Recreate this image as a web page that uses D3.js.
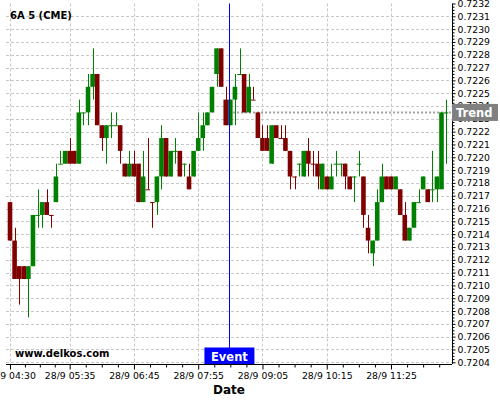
<!DOCTYPE html>
<html>
<head>
<meta charset="utf-8">
<script src="https://cdn.jsdelivr.net/npm/d3@7"></script>
<style>
  body { margin: 0; background: #fff; }
  svg { display: block; font-family: "DejaVu Sans", sans-serif; }
</style>
</head>
<body>
<div id="chart"></div>
<script>
// 5 minute candles, 6A (CME)
const opens = [
  0.72165, 0.72135, 0.72115, 0.72115, 0.72105, 0.72115, 0.72155, 0.72155, 0.72165, 0.72155,
  0.72165, 0.72195, 0.72195, 0.72205, 0.72205, 0.72195, 0.72235, 0.72235, 0.72255, 0.72265,
  0.72225, 0.72215, 0.72225, 0.72225, 0.72225, 0.72195, 0.72185, 0.72195, 0.72195, 0.72165,
  0.72175, 0.72165, 0.72165, 0.72185, 0.72215, 0.72185, 0.72205, 0.72205, 0.72195, 0.72185,
  0.72185, 0.72205, 0.72215, 0.72225, 0.72235, 0.72265, 0.72285, 0.72245, 0.72225, 0.72245,
  0.72265, 0.72265, 0.72235, 0.72245, 0.72235, 0.72215, 0.72215, 0.72195, 0.72225, 0.72215,
  0.72215, 0.72205, 0.72185, 0.72195, 0.72185, 0.72205, 0.72195, 0.72195, 0.72175, 0.72185,
  0.72175, 0.72195, 0.72195, 0.72195, 0.72185, 0.72185, 0.72195, 0.72185, 0.72145, 0.72125,
  0.72135, 0.72165, 0.72185, 0.72185, 0.72175, 0.72175, 0.72155, 0.72135, 0.72145, 0.72165,
  0.72175, 0.72175, 0.72175, 0.72175, 0.72175, 0.72235
];
const highs = [
  0.72165, 0.72145, 0.72115, 0.72115, 0.72115, 0.72155, 0.72175, 0.72165, 0.72175, 0.72155,
  0.72195, 0.72205, 0.72205, 0.72215, 0.72205, 0.72245, 0.72235, 0.72265, 0.72285, 0.72265,
  0.72225, 0.72225, 0.72235, 0.72235, 0.72225, 0.72195, 0.72205, 0.72205, 0.72195, 0.72205,
  0.72215, 0.72165, 0.72185, 0.72225, 0.72215, 0.72205, 0.72215, 0.72205, 0.72195, 0.72195,
  0.72205, 0.72235, 0.72235, 0.72235, 0.72255, 0.72285, 0.72285, 0.72255, 0.72245, 0.72265,
  0.72285, 0.72265, 0.72265, 0.72255, 0.72235, 0.72225, 0.72225, 0.72225, 0.72225, 0.72225,
  0.72225, 0.72205, 0.72185, 0.72195, 0.72205, 0.72215, 0.72205, 0.72205, 0.72195, 0.72185,
  0.72195, 0.72205, 0.72195, 0.72195, 0.72185, 0.72185, 0.72205, 0.72185, 0.72155, 0.72135,
  0.72175, 0.72195, 0.72185, 0.72185, 0.72185, 0.72175, 0.72165, 0.72145, 0.72165, 0.72175,
  0.72185, 0.72175, 0.72205, 0.72185, 0.72235, 0.72245
];
const lows = [
  0.72135, 0.72105, 0.72085, 0.72105, 0.72075, 0.72115, 0.72145, 0.72145, 0.72155, 0.72145,
  0.72165, 0.72195, 0.72195, 0.72195, 0.72195, 0.72195, 0.72225, 0.72225, 0.72245, 0.72225,
  0.72205, 0.72195, 0.72215, 0.72225, 0.72195, 0.72185, 0.72185, 0.72185, 0.72165, 0.72165,
  0.72175, 0.72145, 0.72155, 0.72175, 0.72185, 0.72185, 0.72195, 0.72185, 0.72185, 0.72175,
  0.72185, 0.72205, 0.72205, 0.72225, 0.72235, 0.72255, 0.72255, 0.72225, 0.72225, 0.72225,
  0.72265, 0.72235, 0.72235, 0.72245, 0.72215, 0.72205, 0.72205, 0.72195, 0.72215, 0.72215,
  0.72205, 0.72175, 0.72175, 0.72185, 0.72185, 0.72185, 0.72185, 0.72175, 0.72175, 0.72175,
  0.72175, 0.72185, 0.72185, 0.72175, 0.72175, 0.72165, 0.72185, 0.72145, 0.72125, 0.72115,
  0.72135, 0.72165, 0.72175, 0.72175, 0.72175, 0.72155, 0.72135, 0.72135, 0.72145, 0.72165,
  0.72175, 0.72165, 0.72165, 0.72165, 0.72175, 0.72195
];
const closes = [
  0.72135, 0.72105, 0.72105, 0.72105, 0.72115, 0.72155, 0.72155, 0.72165, 0.72155, 0.72155,
  0.72185, 0.72195, 0.72205, 0.72195, 0.72195, 0.72235, 0.72235, 0.72255, 0.72265, 0.72225,
  0.72215, 0.72225, 0.72225, 0.72225, 0.72205, 0.72185, 0.72195, 0.72185, 0.72165, 0.72185,
  0.72175, 0.72165, 0.72185, 0.72215, 0.72185, 0.72205, 0.72205, 0.72185, 0.72195, 0.72175,
  0.72205, 0.72215, 0.72225, 0.72235, 0.72255, 0.72285, 0.72255, 0.72225, 0.72245, 0.72255,
  0.72265, 0.72235, 0.72255, 0.72245, 0.72215, 0.72205, 0.72205, 0.72225, 0.72215, 0.72215,
  0.72205, 0.72185, 0.72185, 0.72195, 0.72205, 0.72195, 0.72195, 0.72185, 0.72195, 0.72175,
  0.72185, 0.72195, 0.72195, 0.72185, 0.72175, 0.72185, 0.72195, 0.72155, 0.72135, 0.72135,
  0.72165, 0.72185, 0.72175, 0.72175, 0.72185, 0.72155, 0.72135, 0.72145, 0.72165, 0.72165,
  0.72185, 0.72165, 0.72175, 0.72185, 0.72235, 0.72235
];
// dojis (open == close) printed in the bearish colour
const bearDoji = [9, 30, 31, 53, 59, 62, 66];

const xTickIdx = [0, 13, 27, 41, 55, 69, 83];
const xTickLabels = ["28/9 04:30", "28/9 05:35", "28/9 06:45", "28/9 07:55", "28/9 09:05", "28/9 10:15", "28/9 11:25"];
const yTicks = d3.range(7204, 7233).map(v => v / 10000);

const title = "6A 5 (CME)";
const eventIdx = 47.8;
const trendValue = 0.72235;
const trendStart = 48.6;

const width = 500, height = 400;
const plot = { left: 6, right: 452, top: 3.5, bottom: 364 };

const xScale = d3.scaleLinear().domain([0, 83]).range([10, 391]);
const yScale = d3.scaleLinear().domain([0.7204, 0.7232]).range([362.3, 3.5]);
const step = xScale(1) - xScale(0);

const up = "#008000", down = "#800000";
const isUp = (d, i) => closes[i] > opens[i] || (closes[i] === opens[i] && !bearDoji.includes(i));

const candles = opens.map((o, i) => ({ i, o, h: highs[i], l: lows[i], c: closes[i] }));

// minor ticks: quarters between labelled ticks, continued past the last one
const xMinor = [];
xTickIdx.forEach((t, k) => {
  const next = k < xTickIdx.length - 1 ? xTickIdx[k + 1] : t + 14;
  for (let q = 1; q < 4; q++) {
    const v = t + (next - t) * q / 4;
    if (xScale(v) < plot.right - 2) xMinor.push(v);
  }
});
const yMinor = d3.range(7204 * 4, 7232 * 4).filter(v => v % 4 !== 0).map(v => v / 40000);

const svg = d3.select("#chart")
  .append("svg")
    .attr("width", width)
    .attr("height", height);

// grid
const grid = svg.append("g").attr("class", "grid")
  .attr("stroke", "#c8c8c8")
  .attr("stroke-dasharray", "3,2");

grid.selectAll(".hgrid")
  .data(yTicks.slice(0, -1))
  .enter()
  .append("line")
    .attr("x1", plot.left)
    .attr("x2", plot.right)
    .attr("y1", d => Math.round(yScale(d)) + 0.5)
    .attr("y2", d => Math.round(yScale(d)) + 0.5);

grid.selectAll(".vgrid")
  .data(xTickIdx)
  .enter()
  .append("line")
    .attr("x1", d => Math.round(xScale(d)) + 0.5)
    .attr("x2", d => Math.round(xScale(d)) + 0.5)
    .attr("y1", plot.top)
    .attr("y2", plot.bottom);

// trend line
svg.append("line")
  .attr("x1", xScale(trendStart))
  .attr("x2", plot.right)
  .attr("y1", Math.round(yScale(trendValue)) + 0.5)
  .attr("y2", Math.round(yScale(trendValue)) + 0.5)
  .attr("stroke", "#a0a0a0")
  .attr("stroke-width", 2)
  .attr("stroke-dasharray", "2,2");

// candles
const candle = svg.selectAll(".candle")
  .data(candles)
  .enter()
  .append("g")
  .attr("class", "candle");

candle.append("line")
  .attr("x1", d => Math.round(xScale(d.i)) + 0.5)
  .attr("x2", d => Math.round(xScale(d.i)) + 0.5)
  .attr("y1", d => yScale(d.h))
  .attr("y2", d => yScale(d.l))
  .attr("stroke", (d, i) => isUp(d, i) ? up : down);

candle.append("rect")
  .attr("x", d => xScale(d.i) - step / 2)
  .attr("width", step)
  .attr("y", d => yScale(Math.max(d.o, d.c)))
  .attr("height", d => Math.max(1, Math.abs(yScale(d.o) - yScale(d.c))))
  .attr("fill", (d, i) => isUp(d, i) ? up : down);

// event line
svg.append("line")
  .attr("x1", Math.round(xScale(eventIdx)) + 0.5)
  .attr("x2", Math.round(xScale(eventIdx)) + 0.5)
  .attr("y1", plot.top)
  .attr("y2", plot.bottom)
  .attr("stroke", "#0000ff");

// axes
const yAxis = d3.axisRight(yScale)
  .tickValues(yTicks)
  .tickSize(3)
  .tickPadding(2)
  .tickFormat(d3.format(".4f"));

svg.append("g")
  .attr("class", "y axis")
  .attr("transform", `translate(${plot.right + 0.5},0)`)
  .call(yAxis)
  .call(g => g.select(".domain").attr("d", `M0,${plot.top}V${plot.bottom}`));

svg.append("g")
  .attr("class", "y minor")
  .attr("transform", `translate(${plot.right + 0.5},0)`)
  .call(d3.axisRight(yScale).tickValues(yMinor).tickSize(2).tickFormat(""))
  .call(g => g.select(".domain").remove());

const xAxis = d3.axisBottom(xScale)
  .tickValues(xTickIdx)
  .tickSize(5)
  .tickPadding(3)
  .tickFormat((d, i) => xTickLabels[i]);

svg.append("g")
  .attr("class", "x axis")
  .attr("transform", `translate(0,${plot.bottom + 0.5})`)
  .call(xAxis)
  .call(g => g.select(".domain").attr("d", `M${plot.left},0H${plot.right}`));

svg.append("g")
  .attr("class", "x minor")
  .attr("transform", `translate(0,${plot.bottom + 0.5})`)
  .call(d3.axisBottom(xScale).tickValues(xMinor).tickSize(3).tickFormat(""))
  .call(g => g.select(".domain").remove());

svg.selectAll(".axis text")
  .attr("font-family", "DejaVu Sans, sans-serif")
  .attr("font-size", 9.3)
  .attr("fill", "#000");

// labels
svg.append("text")
  .attr("x", 10)
  .attr("y", 19)
  .attr("font-size", 10)
  .attr("font-weight", "bold")
  .text(title);

svg.append("text")
  .attr("x", 15)
  .attr("y", 357)
  .attr("font-size", 10)
  .attr("font-weight", "bold")
  .text("www.delkos.com");

svg.append("text")
  .attr("x", (plot.left + plot.right) / 2)
  .attr("y", 394)
  .attr("text-anchor", "middle")
  .attr("font-size", 12)
  .attr("font-weight", "bold")
  .text("Date");

// event label
const ex = xScale(eventIdx);
svg.append("rect")
  .attr("x", ex - 25)
  .attr("y", 347.5)
  .attr("width", 50)
  .attr("height", 16.5)
  .attr("fill", "#0000ff");
svg.append("text")
  .attr("x", ex)
  .attr("y", 360.5)
  .attr("text-anchor", "middle")
  .attr("font-size", 11.5)
  .attr("font-weight", "bold")
  .attr("fill", "#fff")
  .text("Event");

// trend label
const ty = yScale(trendValue);
svg.append("rect")
  .attr("x", plot.right)
  .attr("y", ty - 8.5)
  .attr("width", 46)
  .attr("height", 17)
  .attr("fill", "#808080");
svg.append("text")
  .attr("x", plot.right + 4)
  .attr("y", ty + 4.5)
  .attr("font-size", 11.5)
  .attr("font-weight", "bold")
  .attr("fill", "#fff")
  .text("Trend");
</script>
</body>
</html>
